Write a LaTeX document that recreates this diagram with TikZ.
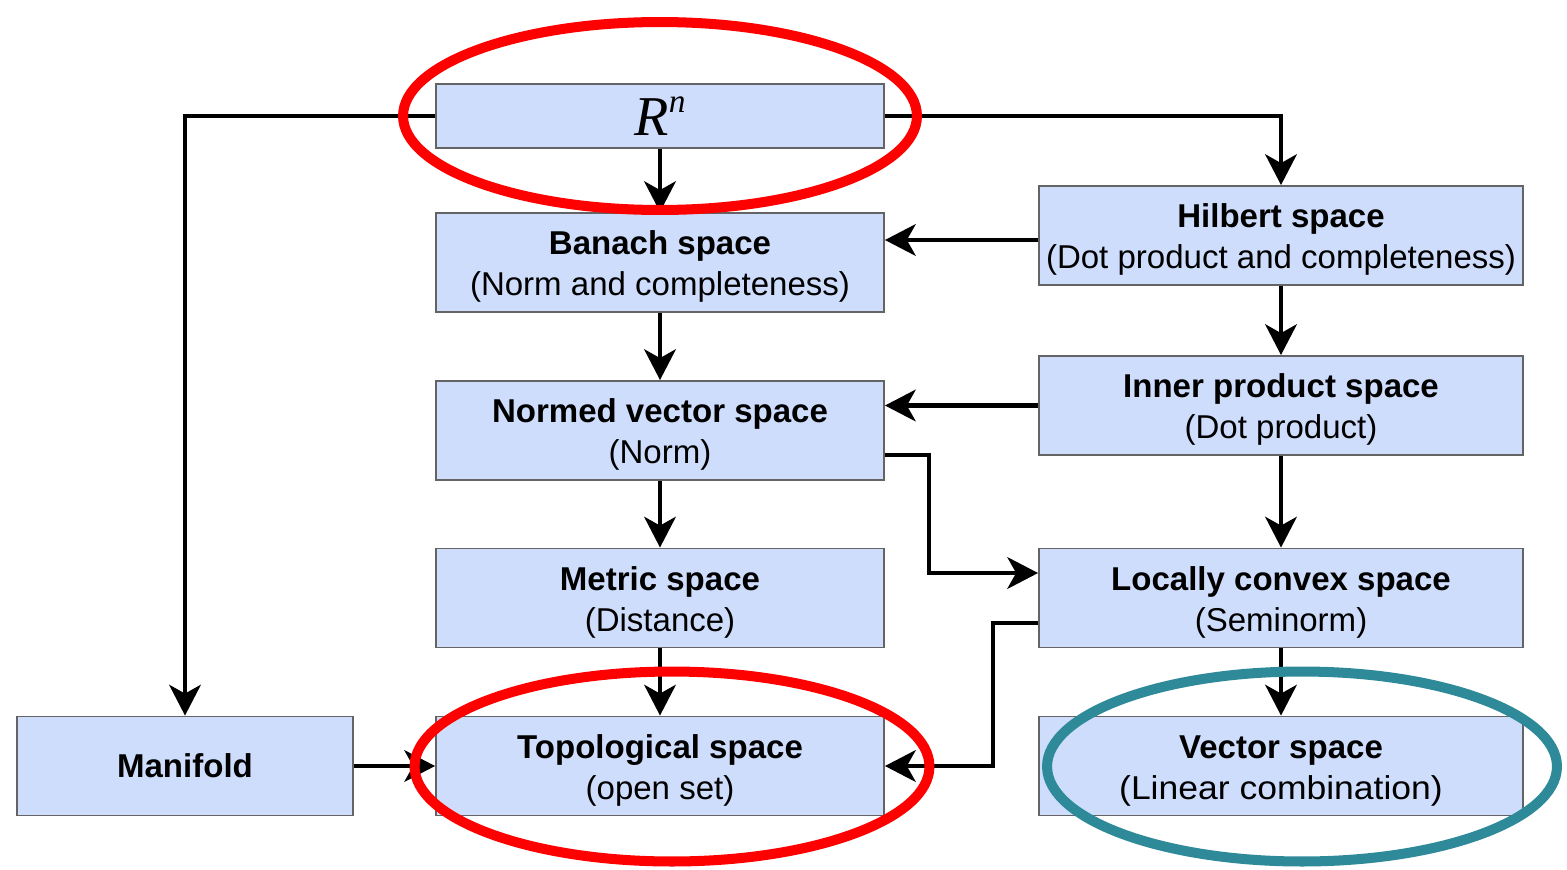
\documentclass[tikz,border=0pt]{standalone}
\usepackage{graphicx}
\usepackage{fontspec}
\setmainfont{Liberation Sans}
\newfontfamily\serifit{Liberation Serif}
\usetikzlibrary{arrows.meta}
\definecolor{boxfill}{RGB}{207,221,252}
\definecolor{boxline}{RGB}{100,100,100}
\definecolor{markred}{RGB}{255,0,0}
\definecolor{markteal}{RGB}{46,138,153}
% raises the top of a title line so the two-line block sits a little lower
\newcommand\capline{\rule{0pt}{18.3pt}}
\tikzset{
  space/.style={draw=boxline, line width=1.1pt, fill=boxfill, align=center,
    inner sep=0pt, minimum width=8.96cm, minimum height=1.98cm,
    font=\fontsize{18.8}{23.2}\selectfont},
  wide/.style={minimum width=9.68cm},
  link/.style={line width=2.4pt, line join=miter,
    -{Stealth[length=17.5pt,width=18pt,inset=5pt]}},
  ring/.style={line width=5.7pt}
}
\begin{document}
\begin{tikzpicture}[x=0.02cm,y=-0.02cm]
\useasboundingbox (0,0) rectangle (1567,869);

% left column
\node[space, minimum height=1.28cm] (rn) at (660,116)
  {\serifit\fontsize{32}{32}\selectfont\itshape R\raisebox{13.5pt}{\fontsize{19}{19}\selectfont n}};
\node[space] (ban) at (660,262.5) {\capline\textbf{Banach space}\\(Norm and completeness)};
\node[space] (nvs) at (660,430.5) {\capline\textbf{Normed vector space}\\(Norm)};
\node[space] (met) at (660,598) {\capline\textbf{Metric space}\\(Distance)};
\node[space] (top) at (660,766) {\capline\textbf{Topological space}\\(open set)};
\node[space, minimum width=6.72cm] (man) at (185,766) {\textbf{Manifold}};

% right column
\node[space, wide] (hil) at (1281,235.5) {\capline\textbf{Hilbert space}\\(Dot product and completeness)};
\node[space, wide] (inn) at (1281,405.5) {\capline\textbf{Inner product space}\\(Dot product)};
\node[space, wide] (lcs) at (1281,598) {\capline\textbf{Locally convex space}\\(Seminorm)};
\node[space, wide] (vec) at (1281,766) {\capline\textbf{Vector space}\\\scalebox{1.075}[1]{(Linear combination)}};

% connectors
\coordinate (hilout) at ([yshift=-0.09cm]hil.west);
\coordinate (nvsout) at ([yshift=-0.49cm]nvs.east);
\coordinate (lcsin) at ([yshift=0.5cm]lcs.west);
\coordinate (lcsout) at ([yshift=-0.5cm]lcs.west);

\draw[link] (rn.west) -| (man.north);
\draw[link] (rn.east) -| (hil.north);
\draw[link] (rn.south) -- (ban.north);
\draw[link] (hilout) -- (hilout -| ban.east);
\draw[link] (hil.south) -- (inn.north);
\draw[link] (inn.west) -- (inn.west -| nvs.east);
\draw[link] (inn.south) -- (lcs.north);
\draw[link] (ban.south) -- (nvs.north);
\draw[link] (nvs.south) -- (met.north);
\draw[link] (met.south) -- (top.north);
\draw[link] (lcs.south) -- (vec.north);
\draw[link] (man.east) -- (top.west);
\draw[link] (nvsout) -- ++(44,0) |- (lcsin);
\draw[link] (lcsout) -- ++(-45,0) |- (top.east);

% highlight rings
\draw[ring, draw=markred] (660,116) ellipse [x radius=5.14cm, y radius=1.88cm];
\draw[ring, draw=markred] (672,766.5) ellipse [x radius=5.15cm, y radius=1.9cm];
\draw[ring, draw=markteal] (1302,766.5) ellipse [x radius=5.1cm, y radius=1.9cm];
\end{tikzpicture}
\end{document}
